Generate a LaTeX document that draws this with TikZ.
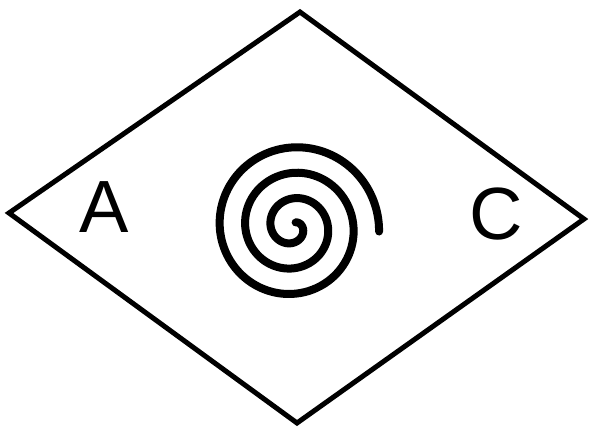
\documentclass[tikz,border=0pt]{standalone}
\usepackage{fontspec}
\setmainfont{Liberation Sans}
\begin{document}
\begin{tikzpicture}[x=1pt, y=-1pt,
    rim/.style={line width=5pt, line join=miter},
    spiral/.style={line width=8pt, line cap=round},
    letter/.style={inner sep=0pt, font=\fontsize{74}{74}\selectfont}]
    \useasboundingbox (0,0) rectangle (589,428);

    % corners of the rhombus
    \coordinate (top) at (300,12);
    \coordinate (left) at (9,213);
    \coordinate (right) at (584,219);
    \coordinate (bottom) at (297,423);
    \draw[rim] (top) -- (right) -- (bottom) -- (left) -- cycle;

    % the spiral in the middle
    \draw[spiral] plot[domain=-60:1083, samples=300, smooth]
        ({293+(9.5+\x/360*25.5)*cos(\x)}, {227+(9.5+\x/360*25.5)*sin(\x)});

    % letters
    \node[letter] (A) at (104,207.5) {A};
    \node[letter] (C) at (496.5,214) {C};
\end{tikzpicture}
\end{document}
